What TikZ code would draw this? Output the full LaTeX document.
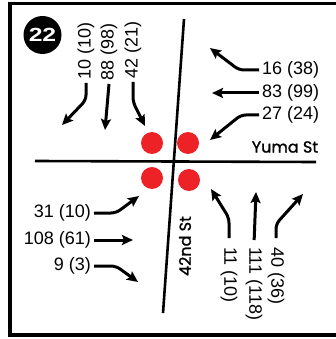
\documentclass[tikz,border=0pt]{standalone}
\usepackage{fontspec}
\setmainfont{Liberation Sans}
\newfontfamily\streetfont[FakeBold=1.2]{Poppins}
\usetikzlibrary{arrows.meta}
\definecolor{dotred}{RGB}{236,34,38}

\begin{document}
\begin{tikzpicture}[x=1pt,y=-1pt,
  count/.style={font=\fontsize{18}{18}\selectfont,inner sep=3pt},
  street/.style={font=\streetfont\fontsize{16}{16}\selectfont,inner sep=0pt},
  flow/.style={line width=3pt,-{Stealth[length=11pt,width=10pt,inset=2pt]},rounded corners=5pt},
  road/.style={line width=2.6pt},
  signal/.style={circle,fill=dotred,minimum size=22pt,inner sep=0pt}]
\useasboundingbox (0,0) rectangle (336,339);
\draw[line width=3.5pt] (10,3.5) rectangle (345,335);

\node[circle,fill=black,minimum size=38pt,inner sep=0pt,text=white,font=\fontsize{19}{19}\selectfont\bfseries] (badge) at (42.5,35) {\scalebox{1.3}[1]{22}};

\coordinate (yumaW) at (35,161);
\coordinate (yumaE) at (316,162);
\coordinate (stN) at (184,19);
\coordinate (stS) at (163,313);
\draw[road] (yumaW)--(yumaE);
\draw[road] (stN)--(stS);

\node[signal] (d1) at (152,143) {};
\node[signal] (d2) at (188,143) {};
\node[signal] (d3) at (152,178) {};
\node[signal] (d4) at (189,180) {};

\node[street] (yuma) at (285,147) {Yuma St};
\node[street,rotate=90] (nd42) at (185,246) {42nd St};

\node[count,rotate=90,anchor=west] (l10) at (86,83) {10 (10)};
\node[count,rotate=90,anchor=west] (l88) at (109,84) {88 (98)};
\node[count,rotate=90,anchor=west] (l42) at (133,82) {42 (21)};
\coordinate (t10) at (62,125);
\coordinate (t88) at (105,130);
\coordinate (t42) at (145,126);
\draw[flow] (l10.west)--++(0,17)--(t10);
\draw[flow] (l88.west)--(t88);
\draw[flow] (l42.west)--++(0,20)--(t42);

\node[count,anchor=west] (l16) at (259,70) {16 (38)};
\node[count,anchor=west] (l83) at (259,93) {83 (99)};
\node[count,anchor=west] (l27) at (259,115) {27 (24)};
\coordinate (t16) at (210,48);
\coordinate (t83) at (212,93);
\coordinate (t27) at (210,140);
\draw[flow] (l16.west)--++(-20,0)--(t16);
\draw[flow] (l83.west)--(t83);
\draw[flow] (l27.west)--++(-18,0)--(t27);

\node[count,anchor=east] (l31) at (94,213) {31 (10)};
\node[count,anchor=east] (l108) at (94,240) {108 (61)};
\node[count,anchor=east] (l9) at (94,266) {9 (3)};
\coordinate (t31) at (139,196);
\coordinate (t108) at (133,240);
\coordinate (t9) at (138,282);
\draw[flow] (l31.east)--++(22,0)--(t31);
\draw[flow] (l108.east)--(t108);
\draw[flow] (l9.east)--++(22,0)--(t9);

\node[count,rotate=-90,anchor=west] (l11) at (229,244) {11 (10)};
\node[count,rotate=-90,anchor=west] (l111) at (254,244) {111 (118)};
\node[count,rotate=-90,anchor=west] (l40) at (276,244) {40 (36)};
\coordinate (t11) at (211,189);
\coordinate (t111) at (256,192);
\coordinate (t40) at (303,194);
\draw[flow,shorten <=6pt] (l11.west)--++(0,-26)--(t11);
\draw[flow,shorten <=4pt] (l111.west)--(t111);
\draw[flow,shorten <=6pt] (l40.west)--++(0,-20)--(t40);
\end{tikzpicture}
\end{document}
